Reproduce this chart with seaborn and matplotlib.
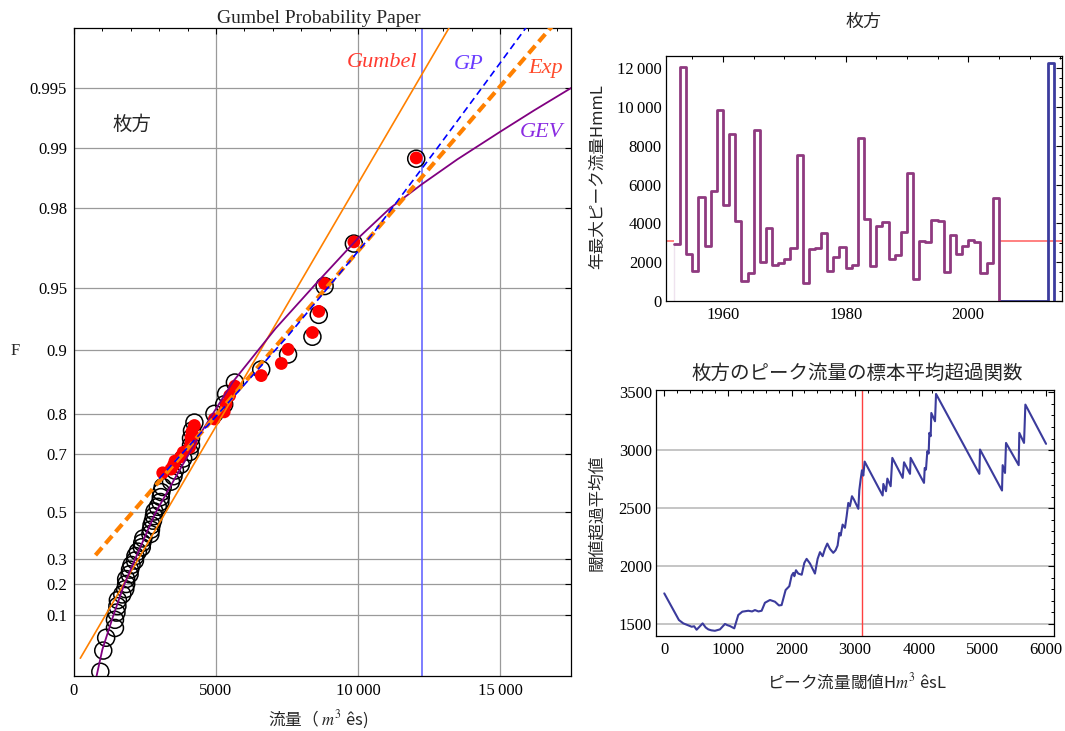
import numpy as np
import pandas as pd
import matplotlib
matplotlib.use("Agg")
import matplotlib.pyplot as plt
from matplotlib.ticker import MultipleLocator, NullLocator, FuncFormatter
import seaborn as sns

# ---------------------------------------------------------------
# Annual maximum peak flow at Hirakata (m^3/s), 1952-2004
years = list(range(1952, 2005))
annual_peak = [2950, 12050, 2440, 1545, 5356, 2815, 5665, 9854, 4944, 8618,
               4120, 1030, 1442, 8824, 2026, 3760, 1837, 1957, 2163, 2730,
               7537, 927, 2690, 2710, 3502, 1528, 2249, 2781, 1700, 1837,
               8395, 4240, 1803, 3845, 4069, 2146, 2386, 3554, 6592, 1133,
               3073, 3039, 4155, 4120, 1494, 3416, 2403, 2833, 3124, 3056,
               1442, 1974, 5288]
# 2005-2012 without record, 2013 typhoon flood
gap_years = list(range(2005, 2013))
flood_year = 2013
flood_peak = 12250
threshold = 3100

# Non-exceedance probability of the sorted annual maxima (Cunnane)
annual_F = [0.0113, 0.0301, 0.0489, 0.0677, 0.0865, 0.1053, 0.1241, 0.1429,
            0.1617, 0.1805, 0.1992, 0.2180, 0.2368, 0.2556, 0.2744, 0.2932,
            0.3120, 0.3308, 0.3496, 0.3684, 0.3872, 0.4060, 0.4248, 0.4436,
            0.4624, 0.4812, 0.5000, 0.5188, 0.5376, 0.5564, 0.5752, 0.5940,
            0.6128, 0.6316, 0.6504, 0.6692, 0.6880, 0.7068, 0.7256, 0.7444,
            0.7632, 0.7820, 0.8008, 0.8195, 0.8383, 0.8571, 0.8759, 0.8947,
            0.9135, 0.9323, 0.9511, 0.9699, 0.9887]

# Peaks over threshold with their annual non-exceedance probability
pot_peak = [12050, 9854, 8824, 8618, 8395, 7537, 7300, 6592, 5665, 5480,
            5356, 5288, 4944, 4240, 4155, 4120, 4120, 4069, 3845, 3760,
            3554, 3502, 3416, 3124]
pot_F = [0.9888, 0.9705, 0.9525, 0.9349, 0.9175, 0.9005, 0.8838, 0.8674,
         0.8514, 0.8356, 0.8201, 0.8049, 0.7899, 0.7753, 0.7610, 0.7469,
         0.7330, 0.7194, 0.7061, 0.6930, 0.6802, 0.6675, 0.6551, 0.6430]

# Fitted distributions, as Gumbel reduced variate y = -ln(-ln F)
gumbel_x = [222, 14500]
gumbel_y = [-1.343, 6.733]
exp_x = [756, 17500]
exp_y = [-0.142, 6.276]
gp_x = [3000, 5000, 7500, 10600, 12700, 14400, 15850, 16200]
gp_y = [0.75, 1.475, 2.40, 3.637, 4.56, 5.32, 5.974, 6.135]
gev_x = [775, 1000, 1400, 1750, 2150, 2850, 3600, 4500, 5600, 7100, 8600,
         10000, 11127, 12250, 13500, 15000, 16200, 17600]
gev_y = [-1.58, -1.24, -0.83, -0.50, -0.19, 0.34, 0.78, 1.30, 1.88, 2.50,
         3.05, 3.55, 3.90, 4.18, 4.47, 4.79, 5.04, 5.32]

F_ticks = [0.1, 0.2, 0.3, 0.5, 0.7, 0.8, 0.9, 0.95, 0.98, 0.99, 0.995]
F_labels = ["0.1", "0.2", "0.3", "0.5", "0.7", "0.8", "0.9", "0.95",
            "0.98", "0.99", "0.995"]

# Sample mean excess function of the peak flow series
me_u = [0, 230, 299, 377, 430, 470, 508, 560, 603, 650, 692, 740, 796, 875,
        954, 990, 1032, 1100, 1163, 1226, 1320, 1380, 1425, 1480, 1530, 1582,
        1661, 1740, 1802, 1844, 1907, 1965, 2002, 2028, 2044, 2070, 2106, 2160,
        2201, 2237, 2290, 2368, 2410, 2447, 2489, 2525, 2562, 2604, 2656, 2693,
        2724, 2751, 2772, 2803, 2840, 2866, 2892, 2918, 2950, 2981, 3050, 3065,
        3086, 3107, 3128, 3149, 3432, 3443, 3485, 3506, 3558, 3584, 3747, 3768,
        3862, 3872, 4082, 4093, 4113, 4134, 4155, 4166, 4187, 4197, 4255, 4271,
        4952, 4962, 5308, 5318, 5355, 5371, 5570, 5580, 5654, 5675, 6000]
me_e = [1764, 1534, 1505, 1488, 1476, 1480, 1450, 1480, 1505, 1470, 1453, 1445,
        1441, 1453, 1500, 1490, 1482, 1462, 1577, 1606, 1614, 1608, 1620, 1608,
        1614, 1683, 1707, 1692, 1660, 1663, 1793, 1826, 1918, 1941, 1912, 1964,
        1935, 1925, 2027, 2062, 2022, 1935, 2062, 2120, 2085, 2148, 2194, 2148,
        2114, 2137, 2177, 2286, 2263, 2358, 2330, 2430, 2545, 2517, 2603, 2574,
        2494, 2655, 2747, 2827, 2781, 2902, 2609, 2709, 2646, 2755, 2689, 2934,
        2761, 2896, 2796, 2934, 2718, 2847, 2833, 2991, 2971, 3150, 3121, 3322,
        3250, 3486, 2796, 3006, 2652, 2871, 2804, 3063, 2871, 3150, 3063, 3394,
        3055]

# ---------------------------------------------------------------
sns.set_theme(style="white")
plt.rcParams.update({
    "font.family": ["Liberation Serif", "DejaVu Serif"],
    "mathtext.fontset": "stix",
    "axes.edgecolor": "black",
    "axes.linewidth": 0.9,
    "xtick.direction": "in",
    "ytick.direction": "in",
    "xtick.color": "black",
    "ytick.color": "black",
    "xtick.labelsize": 12,
    "ytick.labelsize": 12,
    "xtick.major.size": 4.5,
    "ytick.major.size": 4.5,
    "xtick.minor.size": 2.5,
    "ytick.minor.size": 2.5,
    "xtick.major.width": 0.8,
    "ytick.major.width": 0.8,
    "xtick.minor.width": 0.7,
    "ytick.minor.width": 0.7,
})
CJK = ["Noto Sans CJK JP", "DejaVu Sans"]
W, H = 1065, 731


def box(left, top, right, bottom):
    return [left / W, (H - bottom) / H, (right - left) / W, (bottom - top) / H]


def to_reduced(F):
    F = np.clip(np.asarray(F, dtype=float), 1e-12, 1 - 1e-12)
    return -np.log(-np.log(F))


def from_reduced(y):
    return np.exp(-np.exp(-np.asarray(y, dtype=float)))


def thousands(v, pos):
    v = int(round(v))
    return f"{v:,}".replace(",", "\u2009") if v >= 10000 else str(v)


fig = plt.figure(figsize=(W / 100, H / 100), dpi=100)

# ---------------- Gumbel probability paper ----------------
ax = fig.add_axes(box(74, 28, 571, 676))
ax.set_yscale("function", functions=(to_reduced, from_reduced))
ax.set_xlim(0, 17500)
ax.set_ylim(from_reduced(-1.55), from_reduced(6.0))
ax.set_yticks(F_ticks)
ax.set_yticklabels(F_labels)
ax.yaxis.set_minor_locator(NullLocator())
ax.xaxis.set_major_locator(MultipleLocator(5000))
ax.xaxis.set_minor_locator(MultipleLocator(1000))
ax.xaxis.set_major_formatter(FuncFormatter(thousands))
ax.grid(True, which="major", color="#9a9a9a", lw=0.9)
ax.tick_params(which="both", top=True, right=True, pad=5)

sns.scatterplot(x=sorted(annual_peak), y=annual_F, ax=ax, marker="o", s=150,
                facecolor="none", edgecolor="black", linewidth=1.1, zorder=3)
sns.scatterplot(x=pot_peak, y=pot_F, ax=ax, marker="o", s=85,
                color="#ff0000", edgecolor="none", linewidth=0, zorder=3.5)

sns.lineplot(x=gumbel_x, y=from_reduced(gumbel_y), ax=ax, color="#ff8000",
             lw=1.2, estimator=None, sort=False, zorder=4)
sns.lineplot(x=gev_x, y=from_reduced(gev_y), ax=ax, color="#800080",
             lw=1.3, estimator=None, sort=False, zorder=4)
sns.lineplot(x=exp_x, y=from_reduced(exp_y), ax=ax, color="#ff8000",
             lw=3.0, estimator=None, sort=False, zorder=4.2
             ).lines[-1].set_dashes((2.4, 1.3))
sns.lineplot(x=gp_x, y=from_reduced(gp_y), ax=ax, color="#0000ff",
             lw=1.2, estimator=None, sort=False, zorder=4.3
             ).lines[-1].set_dashes((4.2, 2.6))
ax.axvline(flood_peak, color="#5a5aff", lw=1.1, zorder=2.5)

ax.set_xlabel("")
ax.set_ylabel("")
ax.text(0.493, 1.0154, "Gumbel Probability Paper", transform=ax.transAxes,
        ha="center", va="center", fontsize=14)
ax.text(0.116, 0.851, "枚方", transform=ax.transAxes, ha="center",
        va="center", fontsize=14, family=CJK)
ax.text(0.62, 0.946, "Gumbel", transform=ax.transAxes, ha="center",
        va="center", fontsize=16, style="italic", color="#ff3b30")
ax.text(0.795, 0.943, "GP", transform=ax.transAxes, ha="center",
        va="center", fontsize=16, style="italic", color="#6a3cff")
ax.text(0.948, 0.937, "Exp", transform=ax.transAxes, ha="center",
        va="center", fontsize=16, style="italic", color="#ff4a2a")
ax.text(0.94, 0.838, "GEV", transform=ax.transAxes, ha="center",
        va="center", fontsize=16, style="italic", color="#8a2be2")
ax.text(-0.118, 0.5015, "F", transform=ax.transAxes, ha="center",
        va="center", fontsize=12)
ax.text(0.492, -0.068, "流量（ $m^3$ ês)", transform=ax.transAxes,
        ha="center", va="center", fontsize=12, family=CJK)

# ---------------- annual maxima time series ----------------
ax2 = fig.add_axes(box(666, 56, 1062, 301))
ax2.set_xlim(1950.7, 2015.3)
ax2.set_ylim(0, 12620)
step_x = years + [years[-1] + 1]
step_y = annual_peak + [0]
gap_x = gap_years + [flood_year, flood_year + 1]
gap_y = [0] * len(gap_years) + [flood_peak, 0]
ax2.hlines(threshold, 1950.7, years[0], color="#ff6b6b", lw=1.2, zorder=1)
ax2.hlines(threshold, years[-1] + 1, 2015.3, color="#ff6b6b", lw=1.2, zorder=1)
ax2.vlines(years[0], 0, annual_peak[0], color="#efe3ef", lw=1.0, zorder=1)
sns.lineplot(x=step_x, y=step_y, ax=ax2, drawstyle="steps-post",
             color="#8f3a80", lw=2.0, estimator=None, sort=False, zorder=3)
sns.lineplot(x=gap_x, y=gap_y, ax=ax2, drawstyle="steps-post",
             color="#3c3c9e", lw=2.0, estimator=None, sort=False, zorder=2)
ax2.xaxis.set_major_locator(MultipleLocator(20))
ax2.xaxis.set_minor_locator(MultipleLocator(5))
ax2.yaxis.set_major_locator(MultipleLocator(2000))
ax2.yaxis.set_major_formatter(FuncFormatter(thousands))
ax2.yaxis.set_minor_locator(MultipleLocator(500))
ax2.tick_params(which="both", top=True, right=True)
ax2.tick_params(axis="y", pad=3)
ax2.tick_params(axis="x", pad=4)
ax2.set_xlabel("")
ax2.set_ylabel("")
ax2.text(0.499, 1.139, "枚方", transform=ax2.transAxes, ha="center",
         va="center", fontsize=13, family=CJK)
ax2.text(-0.174, 0.506, "年最大ピーク流量HmmL", transform=ax2.transAxes,
         ha="center", va="center", rotation=90, fontsize=12, family=CJK)

# ---------------- mean excess function ----------------
ax3 = fig.add_axes(box(656, 390, 1054, 636))
ax3.set_xlim(-130, 6125)
ax3.set_ylim(1396, 3520)
for g in [1500, 2000, 2500, 3000]:
    ax3.axhline(g, color="#b5b5b5", lw=1.1, zorder=0)
ax3.axvline(threshold, color="#ff4040", lw=1.0, zorder=2)
sns.lineplot(x=me_u, y=me_e, ax=ax3, color="#3b3b9c", lw=1.5,
             estimator=None, sort=False, zorder=3)
ax3.xaxis.set_major_locator(MultipleLocator(1000))
ax3.xaxis.set_minor_locator(MultipleLocator(200))
ax3.yaxis.set_major_locator(MultipleLocator(500))
ax3.yaxis.set_minor_locator(MultipleLocator(100))
ax3.tick_params(which="both", top=True, right=True)
ax3.tick_params(axis="y", pad=3)
ax3.tick_params(axis="x", pad=4)
ax3.set_xlabel("")
ax3.set_ylabel("")
ax3.text(0.505, 1.069, "枚方のピーク流量の標本平均超過関数", transform=ax3.transAxes,
         ha="center", va="center", fontsize=14, family=CJK)
ax3.text(0.505, -0.187, "ピーク流量閾値H$m^3$ êsL", transform=ax3.transAxes,
         ha="center", va="center", fontsize=12, family=CJK)
ax3.text(-0.148, 0.5, "閾値超過平均値", transform=ax3.transAxes,
         ha="center", va="center", rotation=90, fontsize=12, family=CJK)

fig.savefig("out.png", dpi=100)
